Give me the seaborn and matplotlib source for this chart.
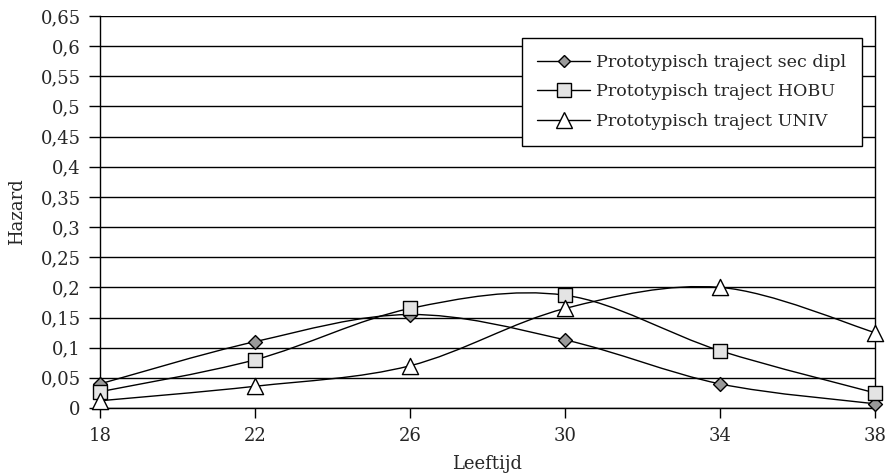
import numpy as np
import pandas as pd
import matplotlib
matplotlib.use("Agg")
import matplotlib.pyplot as plt
import seaborn as sns
from matplotlib.path import Path
from matplotlib.patches import PathPatch
from matplotlib.lines import Line2D

ages = [18, 22, 26, 30, 34, 38]
sec_dipl = [0.040, 0.110, 0.155, 0.113, 0.040, 0.007]
hobu = [0.027, 0.080, 0.165, 0.187, 0.095, 0.025]
univ = [0.012, 0.036, 0.070, 0.165, 0.200, 0.125]
series_names = ["Prototypisch traject sec dipl", "Prototypisch traject HOBU", "Prototypisch traject UNIV"]
y_ticks = [0, 0.05, 0.1, 0.15, 0.2, 0.25, 0.3, 0.35, 0.4, 0.45, 0.5, 0.55, 0.6, 0.65]
y_tick_labels = ["0", "0,05", "0,1", "0,15", "0,2", "0,25", "0,3", "0,35", "0,4", "0,45", "0,5", "0,55", "0,6", "0,65"]

sns.set_theme(style="white")
plt.rcParams['font.family'] = ['DejaVu Serif', 'Liberation Serif']
FS = 13
LFS = 12.6

df = pd.DataFrame({
    "Leeftijd": ages * 3,
    "Hazard": sec_dipl + hobu + univ,
    "serie": [series_names[0]] * 6 + [series_names[1]] * 6 + [series_names[2]] * 6,
})

fig = plt.figure(figsize=(8.94, 4.76), dpi=100)
ax = fig.add_axes([100 / 894, 1 - 408 / 476, 775 / 894, 392 / 476])

styles = {
    series_names[0]: dict(marker="D", s=50, facecolor="#9a9a9a", ms=6.5),
    series_names[1]: dict(marker="s", s=105, facecolor="#e4e4e4", ms=10),
    series_names[2]: dict(marker="^", s=135, facecolor="white", ms=11.5),
}


def smooth_path(xs, ys):
    pts = np.column_stack([xs, ys]).astype(float)
    n = len(pts)
    verts = [pts[0]]
    codes = [Path.MOVETO]
    for i in range(n - 1):
        p0 = pts[i - 1] if i > 0 else pts[i]
        p1 = pts[i]
        p2 = pts[i + 1]
        p3 = pts[i + 2] if i + 2 < n else pts[i + 1]
        c1 = p1 + (p2 - p0) / 6.0
        c2 = p2 - (p3 - p1) / 6.0
        verts += [c1, c2, p2]
        codes += [Path.CURVE4] * 3
    return Path(verts, codes)


for name in series_names:
    sub = df[df["serie"] == name]
    patch = PathPatch(smooth_path(sub["Leeftijd"].values, sub["Hazard"].values),
                      facecolor="none", edgecolor="black", lw=1.0, zorder=3,
                      clip_on=False)
    ax.add_patch(patch)
    st = styles[name]
    sns.scatterplot(data=sub, x="Leeftijd", y="Hazard", marker=st["marker"], s=st["s"],
                    color=st["facecolor"], edgecolor="black", linewidth=1.0, ax=ax,
                    zorder=4, clip_on=False, legend=False)

ax.set_xlim(18, 38)
ax.set_ylim(0, 0.65)
ax.set_xticks(ages)
ax.set_xticklabels([str(a) for a in ages], fontsize=FS)
ax.set_yticks(y_ticks)
ax.set_yticklabels(y_tick_labels, fontsize=FS)
ax.yaxis.grid(True, color="black", lw=1.0)
ax.set_axisbelow(True)
ax.tick_params(axis="y", direction="out", length=8, width=1.0, color="black", pad=6, left=True)
ax.tick_params(axis="x", direction="out", length=7, width=1.0, color="black", pad=6.5, bottom=True)
for side in ["left", "right", "bottom", "top"]:
    ax.spines[side].set_visible(True)
    ax.spines[side].set_color("black")
    ax.spines[side].set_linewidth(1.0)
ax.spines["top"].set_visible(False)

ax.set_xlabel("Leeftijd", fontsize=FS, labelpad=7.5)
ax.set_ylabel("Hazard", fontsize=FS, labelpad=10)

handles = []
for name in series_names:
    st = styles[name]
    handles.append(Line2D([0], [0], color="black", lw=1.0, marker=st["marker"],
                          markersize=st["ms"], markerfacecolor=st["facecolor"],
                          markeredgecolor="black"))
leg = ax.legend(handles, series_names, loc="upper right", bbox_to_anchor=(0.983, 0.944),
                fontsize=LFS, frameon=True, fancybox=False, edgecolor="black",
                handlelength=3.0, handletextpad=0.35, borderpad=0.9, labelspacing=0.72,
                borderaxespad=0)
leg.get_frame().set_linewidth(1.0)
leg.get_frame().set_alpha(1)

fig.savefig("out.png", dpi=100, facecolor="white")
